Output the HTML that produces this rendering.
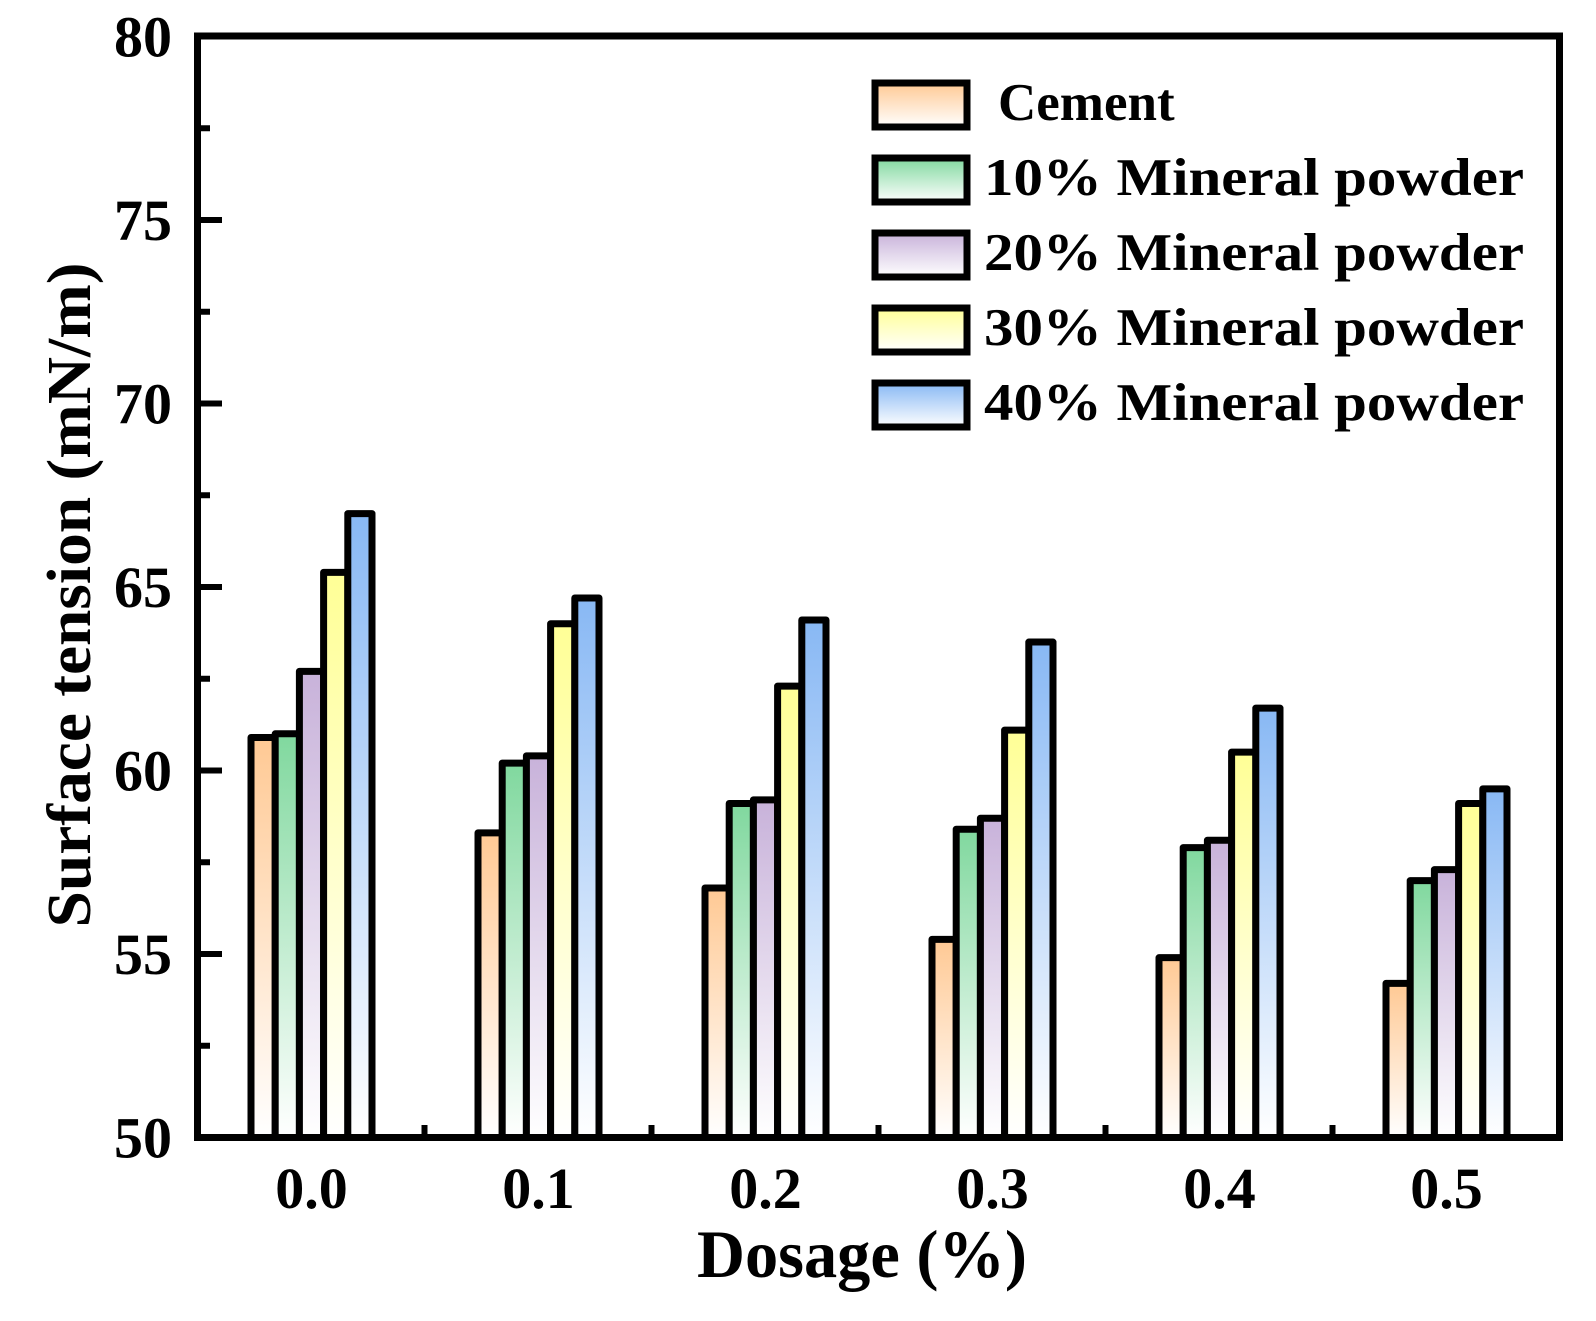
<!DOCTYPE html>
<html><head><meta charset="utf-8"><style>html,body{margin:0;padding:0;background:#fff}svg{display:block}</style></head>
<body>
<svg width="1596" height="1321" viewBox="0 0 1596 1321" xmlns="http://www.w3.org/2000/svg" font-family="'Liberation Serif', serif" font-weight="bold">
<defs>
<linearGradient id="g0" x1="0" y1="0" x2="0" y2="1"><stop offset="0" stop-color="#FFC994"/><stop offset="1" stop-color="#fff"/></linearGradient>
<linearGradient id="g1" x1="0" y1="0" x2="0" y2="1"><stop offset="0" stop-color="#80D89E"/><stop offset="1" stop-color="#fff"/></linearGradient>
<linearGradient id="g2" x1="0" y1="0" x2="0" y2="1"><stop offset="0" stop-color="#C8B2DA"/><stop offset="1" stop-color="#fff"/></linearGradient>
<linearGradient id="g3" x1="0" y1="0" x2="0" y2="1"><stop offset="0" stop-color="#FFFF96"/><stop offset="1" stop-color="#fff"/></linearGradient>
<linearGradient id="g4" x1="0" y1="0" x2="0" y2="1"><stop offset="0" stop-color="#88B8F4"/><stop offset="1" stop-color="#fff"/></linearGradient>
</defs>
<g id="bars" stroke="#000" stroke-width="7" stroke-linejoin="round"></g>
<g stroke="#000" stroke-width="7" fill="none">
<rect x="197.5" y="36" width="1362" height="1101.5"/>
</g>
<g id="ticks" stroke="#000" stroke-width="6"></g>
<g id="labels" font-size="58" fill="#000"></g>
<g font-size="53" fill="#000">
<rect x="875" y="83" width="92" height="44" fill="url(#g0)" stroke="#000" stroke-width="7"/>
<rect x="875" y="158" width="92" height="44" fill="url(#g1)" stroke="#000" stroke-width="7"/>
<rect x="875" y="233" width="92" height="44" fill="url(#g2)" stroke="#000" stroke-width="7"/>
<rect x="875" y="308" width="92" height="44" fill="url(#g3)" stroke="#000" stroke-width="7"/>
<rect x="875" y="383" width="92" height="44" fill="url(#g4)" stroke="#000" stroke-width="7"/>
<text x="998" y="120">Cement</text>
<text x="984" y="195" textLength="540" lengthAdjust="spacingAndGlyphs">10% Mineral powder</text>
<text x="984" y="270" textLength="540" lengthAdjust="spacingAndGlyphs">20% Mineral powder</text>
<text x="984" y="345" textLength="540" lengthAdjust="spacingAndGlyphs">30% Mineral powder</text>
<text x="984" y="420" textLength="540" lengthAdjust="spacingAndGlyphs">40% Mineral powder</text>
</g>
<text x="862" y="1277" font-size="68" text-anchor="middle" textLength="330" lengthAdjust="spacingAndGlyphs">Dosage (%)</text>
<text transform="translate(90,595) rotate(-90)" font-size="62" text-anchor="middle" textLength="665" lengthAdjust="spacingAndGlyphs">Surface tension (mN/m)</text>
<script>
var data=[[60.9,61.0,62.7,65.4,67.0],[58.3,60.2,60.4,64.0,64.7],[56.8,59.1,59.2,62.3,64.1],[55.4,58.4,58.7,61.1,63.5],[54.9,57.9,58.1,60.5,61.7],[54.2,57.0,57.3,59.1,59.5]];
var ns="http://www.w3.org/2000/svg";
function Y(v){return 1137.5-(v-50)*36.7;}
var bars=document.getElementById("bars"),ticks=document.getElementById("ticks"),labels=document.getElementById("labels");
function el(p,t,a,txt){var e=document.createElementNS(ns,t);for(var k in a)e.setAttribute(k,a[k]);if(txt)e.textContent=txt;p.appendChild(e);return e;}
for(var g=0;g<6;g++){var c=311.5+227*g;
 for(var i=0;i<5;i++){var x=c-60.5+i*24.2,y=Y(data[g][i]);
  el(bars,"rect",{x:x,y:y,width:24.2,height:1137.5-y,fill:"url(#g"+i+")"});}
 el(labels,"text",{x:c,y:1208,"text-anchor":"middle"},"0."+g);
 if(g>0){var tx=197.5+227*g;el(ticks,"line",{x1:tx,y1:1137,x2:tx,y2:1125});}
}
for(var v=50;v<=80;v+=2.5){var y=Y(v);var major=(v%5==0);
 if(v>50&&v<80)el(ticks,"line",{x1:197,y1:y,x2:major?222:210,y2:y});
 if(major)el(labels,"text",{x:172,y:y+20,"text-anchor":"end"},String(v));}
</script>
</svg>
</body></html>
